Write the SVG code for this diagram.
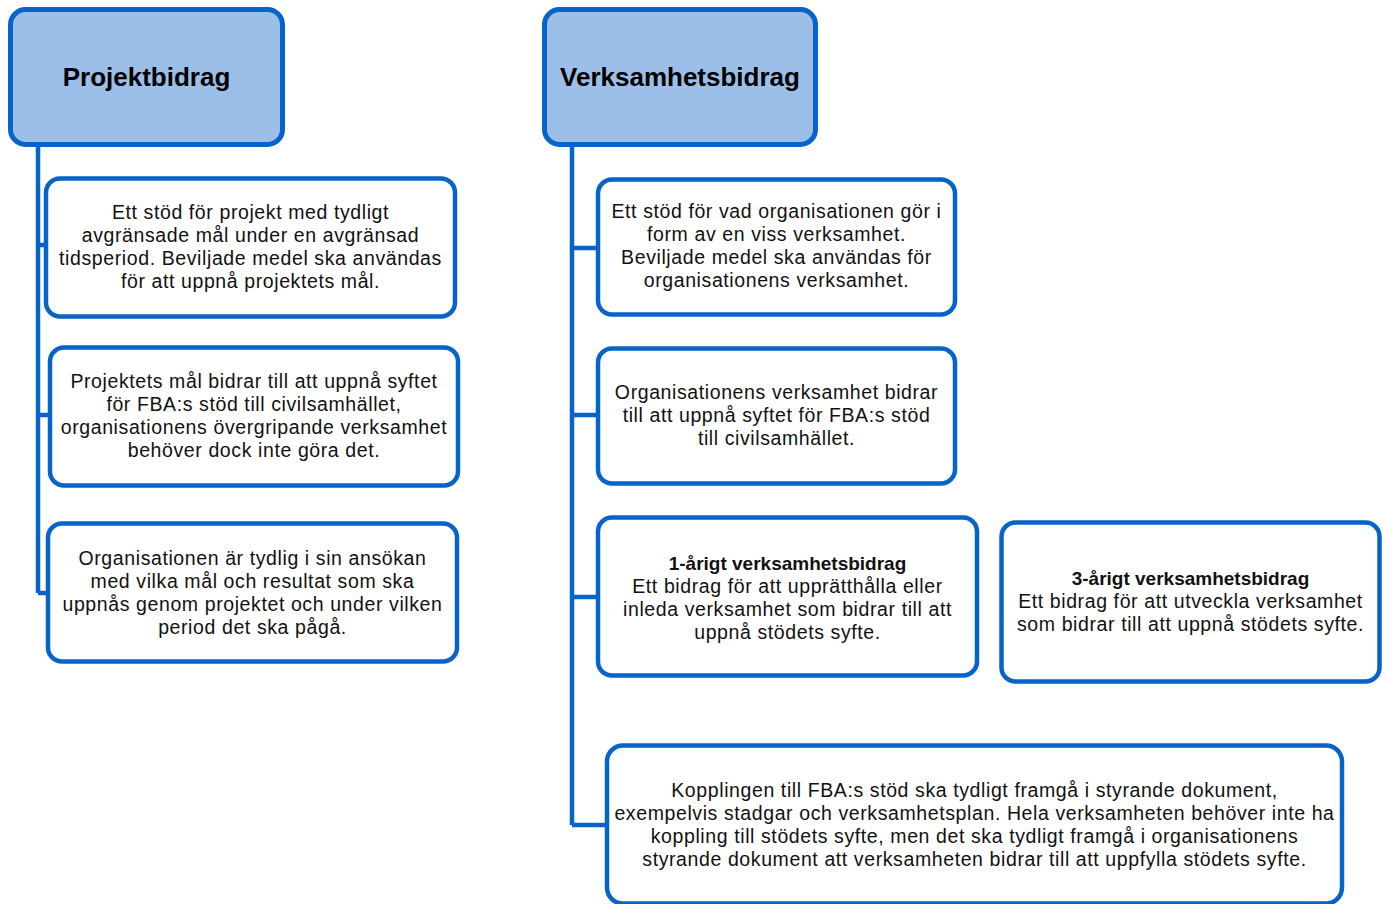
<svg xmlns="http://www.w3.org/2000/svg" width="1386" height="904" viewBox="0 0 1386 904">
<style>
.hdr{fill:#9BBFE8;stroke:#0563C9;stroke-width:5}
.box{fill:#FFFFFF;stroke:#0563C9;stroke-width:4.5}
.con{fill:none;stroke:#0563C9;stroke-width:4.5}
.ht{font-family:"Liberation Sans",Arial,sans-serif;font-weight:bold;font-size:26px;fill:#000;text-anchor:middle}
.t{font-family:"Liberation Sans",Arial,sans-serif;font-size:19.5px;letter-spacing:0.6px;fill:#111;text-anchor:middle}
.b{font-weight:bold;font-size:19px;letter-spacing:0}
</style>
<rect width="1386" height="904" fill="#fff"/>
<g id="connectors">
<path class="con" d="M38 145 V593 M38 245 H46 M38 415 H50 M38 593 H48"/>
<path class="con" d="M572 145 V825 M572 248 H598 M572 415 H598 M572 597 H598 M572 825 H607"/>
</g>
<g id="projektbidrag">
<rect class="hdr" x="10.5" y="9.5" width="272" height="135" rx="15"/>
<text class="ht" x="146.5" y="86">Projektbidrag</text>
</g>
<g id="verksamhetsbidrag">
<rect class="hdr" x="544.5" y="9.5" width="271" height="135" rx="15"/>
<text class="ht" x="680" y="86">Verksamhetsbidrag</text>
</g>
<g id="p1">
<rect class="box" x="46" y="178.5" width="409" height="138" rx="14"/>
<text class="t"><tspan x="250.5" y="219">Ett stöd för projekt med tydligt</tspan><tspan x="250.5" y="242">avgränsade mål under en avgränsad</tspan><tspan x="250.5" y="265">tidsperiod. Beviljade medel ska användas</tspan><tspan x="250.5" y="288">för att uppnå projektets mål.</tspan></text>
</g>
<g id="p2">
<rect class="box" x="50" y="347.5" width="408" height="138" rx="14"/>
<text class="t"><tspan x="254" y="388">Projektets mål bidrar till att uppnå syftet</tspan><tspan x="254" y="411">för FBA:s stöd till civilsamhället,</tspan><tspan x="254" y="434">organisationens övergripande verksamhet</tspan><tspan x="254" y="457">behöver dock inte göra det.</tspan></text>
</g>
<g id="p3">
<rect class="box" x="48" y="523.5" width="409" height="138" rx="14"/>
<text class="t"><tspan x="252.5" y="565">Organisationen är tydlig i sin ansökan</tspan><tspan x="252.5" y="588">med vilka mål och resultat som ska</tspan><tspan x="252.5" y="611">uppnås genom projektet och under vilken</tspan><tspan x="252.5" y="634">period det ska pågå.</tspan></text>
</g>
<g id="v1">
<rect class="box" x="598" y="179.5" width="357" height="135" rx="14"/>
<text class="t"><tspan x="776.5" y="218">Ett stöd för vad organisationen gör i</tspan><tspan x="776.5" y="241">form av en viss verksamhet.</tspan><tspan x="776.5" y="264">Beviljade medel ska användas för</tspan><tspan x="776.5" y="287">organisationens verksamhet.</tspan></text>
</g>
<g id="v2">
<rect class="box" x="598" y="348.5" width="357" height="135" rx="14"/>
<text class="t"><tspan x="776.5" y="399">Organisationens verksamhet bidrar</tspan><tspan x="776.5" y="422">till att uppnå syftet för FBA:s stöd</tspan><tspan x="776.5" y="445">till civilsamhället.</tspan></text>
</g>
<g id="v3">
<rect class="box" x="598" y="517.5" width="379" height="158" rx="14"/>
<text class="t"><tspan class="b" x="787.5" y="570">1-årigt verksamhetsbidrag</tspan><tspan x="787.5" y="593">Ett bidrag för att upprätthålla eller</tspan><tspan x="787.5" y="616">inleda verksamhet som bidrar till att</tspan><tspan x="787.5" y="639">uppnå stödets syfte.</tspan></text>
</g>
<g id="v4">
<rect class="box" x="1001.5" y="522.5" width="378" height="159" rx="14"/>
<text class="t"><tspan class="b" x="1190.5" y="585">3-årigt verksamhetsbidrag</tspan><tspan x="1190.5" y="608">Ett bidrag för att utveckla verksamhet</tspan><tspan x="1190.5" y="631">som bidrar till att uppnå stödets syfte.</tspan></text>
</g>
<g id="v5">
<rect class="box" x="607" y="745.5" width="735" height="158" rx="16"/>
<text class="t"><tspan x="974.5" y="797">Kopplingen till FBA:s stöd ska tydligt framgå i styrande dokument,</tspan><tspan x="974.5" y="820">exempelvis stadgar och verksamhetsplan. Hela verksamheten behöver inte ha</tspan><tspan x="974.5" y="843">koppling till stödets syfte, men det ska tydligt framgå i organisationens</tspan><tspan x="974.5" y="866">styrande dokument att verksamheten bidrar till att uppfylla stödets syfte.</tspan></text>
</g>
</svg>
